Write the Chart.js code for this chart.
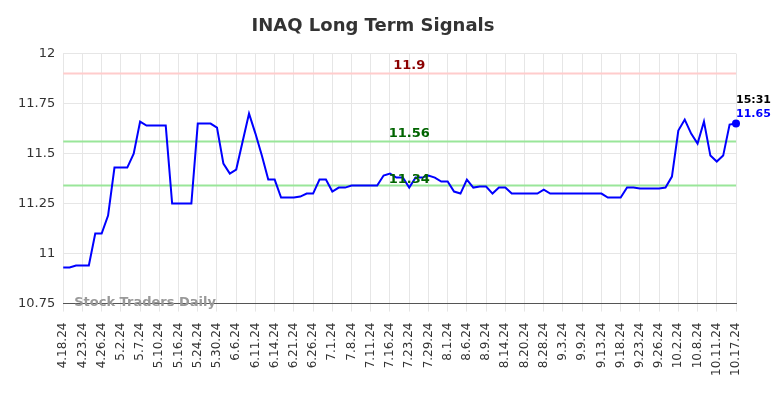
<!DOCTYPE html>
<html>
<head>
<meta charset="utf-8">
<script src="https://cdn.jsdelivr.net/npm/chart.js@4"></script>
<style>
  html, body { margin: 0; padding: 0; background: #fff; }
  #wrap { width: 784px; height: 398px; }
</style>
</head>
<body>
<div id="wrap"><canvas id="chart"></canvas></div>
<script>
// tick labels on the x axis, one every 3 points
const tickLabels = ['4.18.24', '4.23.24', '4.26.24', '5.2.24', '5.7.24', '5.10.24', '5.16.24', '5.24.24',
    '5.30.24', '6.6.24', '6.11.24', '6.14.24', '6.21.24', '6.26.24', '7.1.24', '7.8.24', '7.11.24',
    '7.16.24', '7.23.24', '7.29.24', '8.1.24', '8.6.24', '8.9.24', '8.14.24', '8.20.24', '8.28.24',
    '9.3.24', '9.9.24', '9.13.24', '9.18.24', '9.23.24', '9.26.24', '10.2.24', '10.8.24', '10.11.24',
    '10.17.24'];

const prices = [10.93, 10.93, 10.94, 10.94, 10.94, 11.10, 11.10, 11.19, 11.43, 11.43,
    11.43, 11.50, 11.66, 11.64, 11.64, 11.64, 11.64, 11.25, 11.25, 11.25,
    11.25, 11.65, 11.65, 11.65, 11.63, 11.45, 11.40, 11.42, 11.56, 11.70,
    11.60, 11.49, 11.37, 11.37, 11.28, 11.28, 11.28, 11.285, 11.30, 11.30,
    11.37, 11.37, 11.31, 11.33, 11.33, 11.34, 11.34, 11.34, 11.34, 11.34,
    11.39, 11.40, 11.38, 11.38, 11.33, 11.38, 11.38, 11.39, 11.38, 11.36,
    11.36, 11.31, 11.30, 11.37, 11.33, 11.335, 11.335, 11.30, 11.33, 11.33,
    11.30, 11.30, 11.30, 11.30, 11.30, 11.32, 11.30, 11.30, 11.30, 11.30,
    11.30, 11.30, 11.30, 11.30, 11.30, 11.28, 11.28, 11.28, 11.33, 11.33,
    11.325, 11.325, 11.325, 11.325, 11.33, 11.385, 11.615, 11.67, 11.60, 11.55,
    11.66, 11.49, 11.46, 11.49, 11.645, 11.65];

const yTicks = [10.75, 11, 11.25, 11.5, 11.75, 12];

const signalLevels = [11.9, 11.56, 11.34];
const signalLineColors = ['#ffcccc', '#99e699', '#99e699'];
const signalTextColors = ['#8b0000', '#006400', '#006400'];

const lastTime = '15:31';

const FONT = 'DejaVu Sans';

const signalsPlugin = {
    id: 'signals',
    beforeDatasetsDraw(chart) {
        const { ctx, chartArea, scales } = chart;
        ctx.save();
        signalLevels.forEach((lvl, k) => {
            const y = scales.y.getPixelForValue(lvl);
            ctx.strokeStyle = signalLineColors[k];
            ctx.lineWidth = 2;
            ctx.beginPath();
            ctx.moveTo(chartArea.left, y);
            ctx.lineTo(chartArea.right, y);
            ctx.stroke();
        });
        // watermark
        ctx.font = 'bold 13px ' + FONT;
        ctx.fillStyle = '#999999';
        ctx.textAlign = 'left';
        ctx.textBaseline = 'middle';
        ctx.fillText('Stock Traders Daily', chartArea.left + 11, chartArea.bottom - 1);
        ctx.restore();
    },
    afterDatasetsDraw(chart) {
        const { ctx, scales } = chart;
        ctx.save();
        ctx.font = 'bold 13px ' + FONT;
        ctx.textAlign = 'center';
        ctx.textBaseline = 'bottom';
        const xMid = scales.x.getPixelForValue(54);
        signalLevels.forEach((lvl, k) => {
            const y = scales.y.getPixelForValue(lvl);
            ctx.fillStyle = signalTextColors[k];
            ctx.fillText(String(lvl), xMid, k === 2 ? y + 1 : y - 1);
        });
        // last value label
        const last = prices.length - 1;
        const px = scales.x.getPixelForValue(last);
        const py = scales.y.getPixelForValue(prices[last]);
        ctx.textAlign = 'left';
        ctx.textBaseline = 'middle';
        ctx.font = 'bold 11px ' + FONT;
        ctx.fillStyle = '#000000';
        ctx.fillText(lastTime, px, py - 23);
        ctx.fillStyle = '#0000ff';
        ctx.fillText(prices[last].toFixed(2), px, py - 9);
        ctx.restore();
    }
};

new Chart(document.getElementById('chart'), {
    type: 'line',
    data: {
        labels: prices.map((_, i) => i),
        datasets: [{
            data: prices,
            borderColor: '#0000ff',
            borderWidth: 2,
            tension: 0,
            clip: false,
            pointRadius: prices.map((_, i) => i === prices.length - 1 ? 4 : 0),
            pointBackgroundColor: '#0000ff',
            pointBorderWidth: 0
        }]
    },
    options: {
        responsive: true,
        maintainAspectRatio: false,
        animation: false,
        layout: { padding: { left: 10, right: 48, top: 2, bottom: 11 } },
        plugins: {
            legend: { display: false },
            tooltip: { enabled: false },
            title: {
                display: true,
                text: 'INAQ Long Term Signals',
                color: '#333333',
                font: { family: FONT, size: 18, weight: 'bold' },
                padding: { top: 14, bottom: 16 }
            }
        },
        scales: {
            x: {
                type: 'linear',
                min: 0,
                max: prices.length - 1,
                afterBuildTicks: axis => {
                    axis.ticks = tickLabels.map((_, k) => ({ value: k * 3 }));
                },
                ticks: {
                    autoSkip: false,
                    maxRotation: 90,
                    minRotation: 90,
                    padding: 11,
                    color: '#333333',
                    font: { family: FONT, size: 12 },
                    callback: v => tickLabels[Math.round(v / 3)]
                },
                grid: { color: '#e6e6e6', tickLength: 8 },
                border: { color: '#555555', width: 1 }
            },
            y: {
                min: 10.75,
                max: 12,
                afterBuildTicks: axis => {
                    axis.ticks = yTicks.map(v => ({ value: v }));
                },
                ticks: {
                    color: '#333333',
                    font: { family: FONT, size: 13 },
                    padding: 8,
                    callback: v => String(v)
                },
                grid: { color: '#e6e6e6', drawTicks: false },
                border: { display: false }
            }
        }
    },
    plugins: [signalsPlugin]
});
</script>
</body>
</html>
